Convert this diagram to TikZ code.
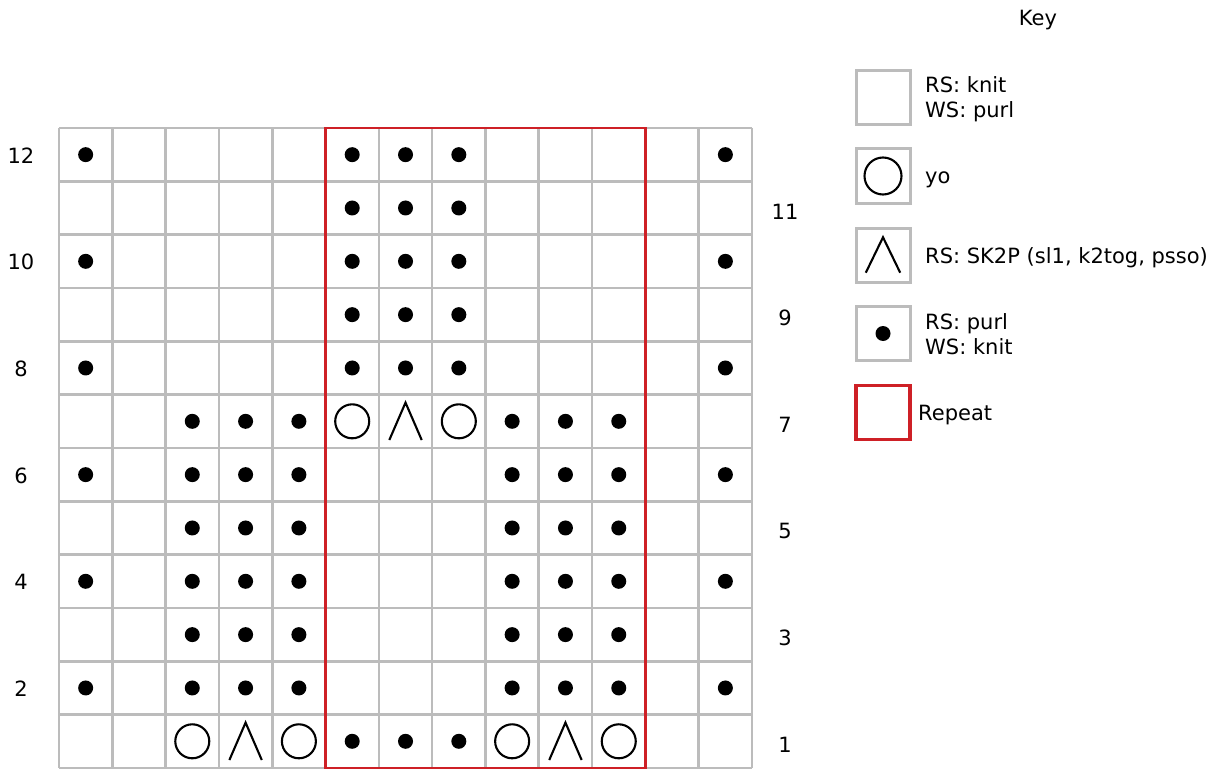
\documentclass[tikz,border=0pt]{standalone}
\usepackage{fontspec}
\setmainfont{DejaVu Sans}
\definecolor{gridgray}{RGB}{188,188,188}
\definecolor{repred}{RGB}{206,32,38}
\begin{document}
\begin{tikzpicture}[x=1pt,y=-1pt,
  every node/.style={font=\fontsize{21}{25}\selectfont, inner sep=0pt},
  gridline/.style={draw=gridgray, line width=2.6pt},
  purl/.style={circle, fill=black, inner sep=0pt, minimum size=15pt},
  yo/.style={circle, draw=black, line width=2.1pt, inner sep=0pt, minimum size=34pt},
  lam/.style={inner sep=0pt, minimum width=32pt, minimum height=37pt},
  symline/.style={line width=2.1pt, line join=miter},
  keybox/.style={draw=gridgray, line width=3pt, minimum size=54pt, inner sep=0pt},
  repbox/.style={draw=repred, line width=2.6pt, inner sep=0pt},
  keyrep/.style={draw=repred, line width=3.4pt, minimum size=54pt, inner sep=0pt},
  lbl/.style={inner sep=0pt},
]
\useasboundingbox (0,0) rectangle (1225,770);
\def\cw{53.31}
\def\rh{53.33}
% grid
\foreach \i in {0,...,13} \draw[gridline] ({59+\i*\cw},128) -- ({59+\i*\cw},768);
\foreach \j in {0,...,12} \draw[gridline] (59,{128+\j*\rh}) -- (752,{128+\j*\rh});
% repeat
\node[repbox, minimum width={6*\cw}, minimum height={12*\rh}] (rep) at ({59+8*\cw},{128+6*\rh}) {};
% purl dots
\foreach \r/\cols in {12/{1,6,7,8,13}, 11/{6,7,8}, 10/{1,6,7,8,13}, 9/{6,7,8},
  8/{1,6,7,8,13}, 7/{3,4,5,9,10,11}, 6/{1,3,4,5,9,10,11,13}, 5/{3,4,5,9,10,11},
  4/{1,3,4,5,9,10,11,13}, 3/{3,4,5,9,10,11}, 2/{1,3,4,5,9,10,11,13}, 1/{6,7,8}}
  \foreach \c in \cols
    \node[purl] (p-\c-\r) at ({59+(\c-0.5)*\cw},{128+(12.5-\r)*\rh}) {};
% yarn overs
\foreach \c/\r in {6/7, 8/7, 3/1, 5/1, 9/1, 11/1}
  \node[yo] (y-\c-\r) at ({59+(\c-0.5)*\cw},{128+(12.5-\r)*\rh}) {};
% SK2P
\foreach \c/\r in {7/7, 4/1, 10/1} {
  \node[lam] (l-\c-\r) at ({59+(\c-0.5)*\cw},{128+(12.5-\r)*\rh}) {};
  \draw[symline] (l-\c-\r.south west) -- (l-\c-\r.north) -- (l-\c-\r.south east);
}
% row labels
\foreach \r in {12,10,8,6,4,2}
  \node[lbl] (rl-\r) at (21,{128+(12.5-\r)*\rh+1}) {\r};
\foreach \r in {11,9,7,5,3,1}
  \node[lbl] (rr-\r) at (785,{128+(12.5-\r)*\rh+3.5}) {\r};
% key
\node[lbl] (keytitle) at (1038,20) {Key};
\node[keybox] (k1) at (883,97.5) {};
\node[lbl, anchor=base west] (k1a) at (925,93) {RS: knit};
\node[lbl, anchor=base west] (k1b) at (925,118) {WS: purl};
\node[keybox] (k2) at (883,176) {};
\node[yo, minimum size=37pt] (k2s) at (k2) {};
\node[lbl, anchor=base west] (k2a) at (925,184) {yo};
\node[keybox] (k3) at (883,255) {};
\node[lam, minimum width=34pt, minimum height=35pt] (k3s) at (k3) {};
\draw[symline] (k3s.south west) -- (k3s.north) -- (k3s.south east);
\node[lbl, anchor=base west] (k3a) at (925,263) {RS: SK2P (sl1, k2tog, psso)};
\node[keybox] (k4) at (883,333.5) {};
\node[purl, minimum size=15pt] (k4s) at (k4) {};
\node[lbl, anchor=base west] (k4a) at (925,329.5) {RS: purl};
\node[lbl, anchor=base west] (k4b) at (925,354.5) {WS: knit};
\node[keyrep] (k5) at (883,412.5) {};
\node[lbl, anchor=base west] (k5a) at (918,420.5) {Repeat};
\end{tikzpicture}
\end{document}
